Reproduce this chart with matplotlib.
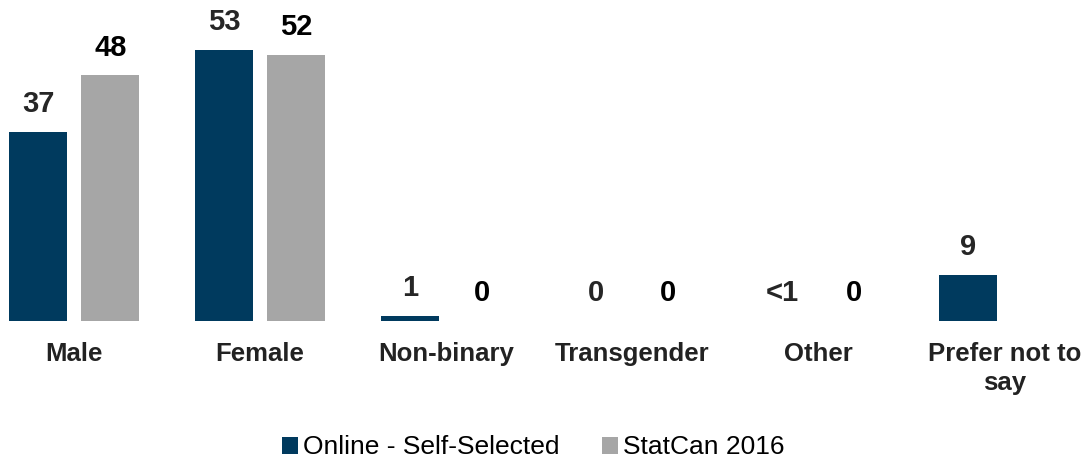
import numpy as np
import matplotlib.pyplot as plt

plt.rcParams['font.family'] = ['Liberation Sans', 'DejaVu Sans']

categories = ['Male', 'Female', 'Non-binary', 'Transgender', 'Other', 'Prefer not to\nsay']
online = [37, 53, 1, 0, 0, 9]
online_labels = ['37', '53', '1', '0', '<1', '9']
statcan = [48, 52, 0, 0, 0, None]
statcan_labels = ['48', '52', '0', '0', '0', '']

navy = '#003a5e'
grey = '#a6a6a6'

fig = plt.figure(figsize=(10.88, 4.58), dpi=100)
ax = fig.add_axes([9 / 1088, 137 / 458, 1079 / 1088, 307 / 458])

x = np.arange(len(categories))
w = 0.312
off = 0.194

sc_vals = [v if v is not None else 0 for v in statcan]
b1 = ax.bar(x - off, online, w, color=navy, label='Online - Self-Selected')
b2 = ax.bar(x[:5] + off, sc_vals[:5], w, color=grey, label='StatCan 2016')

for i in range(len(categories)):
    ax.annotate(online_labels[i], (x[i] - off, online[i]), xytext=(0, 10),
                textcoords='offset points', ha='center', va='bottom',
                fontsize=21, fontweight='bold', color='#262626')
    if statcan_labels[i]:
        ax.annotate(statcan_labels[i], (x[i] + off, sc_vals[i]), xytext=(0, 10),
                    textcoords='offset points', ha='center', va='bottom',
                    fontsize=21, fontweight='bold', color='#000000')

ax.set_xlim(-0.35, 5.45)
ax.set_ylim(0, 60)
ax.set_xticks(x)
ax.set_xticklabels(categories, fontsize=18.5, fontweight='bold', color='#222222',
                   linespacing=1.25, va='top')
ax.tick_params(axis='x', length=0, pad=15)
ax.set_yticks([])
for s in ax.spines.values():
    s.set_visible(False)

leg = fig.legend(handles=[b1, b2], loc='lower center', bbox_to_anchor=(0.49, -0.055),
                 ncol=2, frameon=False, fontsize=19, handlelength=0.6,
                 handleheight=0.6, handletextpad=0.2, columnspacing=1.6)

fig.savefig('out.png', dpi=100)
